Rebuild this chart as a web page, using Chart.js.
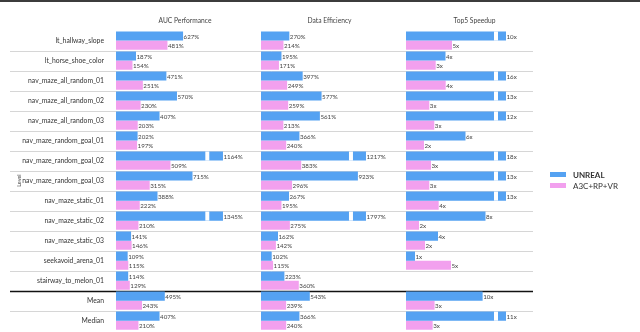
<!DOCTYPE html>
<html>
<head>
<meta charset="utf-8">
<script src="https://cdn.jsdelivr.net/npm/chart.js@4.4.1/dist/chart.umd.min.js"></script>
<style>
  html, body { margin: 0; padding: 0; background: #fff; }
  #wrap { position: relative; width: 640px; height: 332px; overflow: hidden; }
  #wrap canvas { position: absolute; left: 0; top: 0; }
  #topline { position: absolute; left: 0; top: 0; width: 640px; height: 2px; background: #3c3c3c; }
  .leg { position: absolute; left: 550px; width: 88px; height: 10px; font-family: Lato, 'Open Sans', sans-serif; font-size: 8px; color: #333; line-height: 10px; white-space: nowrap; }
  .leg i { display: inline-block; width: 16px; height: 5px; margin-right: 7px; vertical-align: 1px; }
</style>
</head>
<body>
<div id="wrap">
  <canvas id="auc" width="640" height="332"></canvas>
  <canvas id="eff" width="640" height="332"></canvas>
  <canvas id="top5" width="640" height="332"></canvas>
  <div id="topline"></div>
</div>
<script>
const levels = [
    'lt_hallway_slope', 'lt_horse_shoe_color', 'nav_maze_all_random_01', 'nav_maze_all_random_02',
    'nav_maze_all_random_03', 'nav_maze_random_goal_01', 'nav_maze_random_goal_02', 'nav_maze_random_goal_03',
    'nav_maze_static_01', 'nav_maze_static_02', 'nav_maze_static_03', 'seekavoid_arena_01',
    'stairway_to_melon_01', 'Mean', 'Median',
];
const seriesNames = ['UNREAL', 'A3C+RP+VR'];
const panelTitles = ['AUC Performance', 'Data Efficiency', 'Top5 Speedup'];

// percent of baseline; last two entries are Mean / Median
const aucUnreal = [627, 187, 471, 570, 407, 202, 1164, 715, 388, 1345, 141, 109, 114, 495, 407];
const aucA3c = [481, 154, 251, 230, 203, 197, 509, 315, 222, 210, 146, 115, 129, 243, 210];
const effUnreal = [270, 195, 397, 577, 561, 366, 1217, 923, 267, 1797, 162, 102, 223, 543, 366];
const effA3c = [214, 171, 249, 259, 213, 240, 383, 296, 195, 275, 142, 115, 360, 239, 240];
// speedup factor, no value for stairway_to_melon_01
const speedUnreal = [10, 3.95, 16, 13, 12, 5.95, 18, 13, 13, 7.95, 3.2, 0.9, null, 10, 11];
const speedA3c = [4.6, 2.97, 3.97, 2.33, 2.83, 1.8, 2.5, 2.33, 3.27, 1.3, 1.9, 4.5, null, 3, 3];

const blue = '#55a2f2';
const pink = '#f2a0ee';
const fontFamily = "Lato, 'Open Sans', sans-serif";
const nLevels = 13;

// bars are cut at the axis break; Mean/Median rows show the statistic of the cut bars
function shownValues(values, cap) {
    const clipped = values.slice(0, nLevels).filter((v) => v != null).map((v) => Math.min(v, cap));
    const sorted = [...clipped].sort((a, b) => a - b);
    const mid = sorted.length / 2;
    const median = sorted.length % 2 ? sorted[Math.floor(mid)] : (sorted[mid - 1] + sorted[mid]) / 2;
    const mean = clipped.reduce((a, b) => a + b, 0) / clipped.length;
    return values.map((v, i) => {
        if (i === nLevels) return mean;
        if (i === nLevels + 1) return median;
        return v == null ? null : Math.min(v, cap);
    });
}

const barDecor = {
    id: 'barDecor',
    afterDatasetsDraw(chart, args, opts) {
        const { ctx } = chart;
        const x = chart.scales.x;
        ctx.save();
        chart.data.datasets.forEach((ds, di) => {
            chart.getDatasetMeta(di).data.forEach((bar, i) => {
                const actual = ds.actual[i];
                if (actual == null) return;
                const half = bar.height / 2;
                if (ds.data[i] >= opts.cap) {
                    const g0 = x.getPixelForValue(opts.cap * opts.gap[0]);
                    const g1 = x.getPixelForValue(opts.cap * opts.gap[1]);
                    ctx.fillStyle = '#fff';
                    ctx.fillRect(g0, bar.y - half, g1 - g0, bar.height);
                }
                ctx.fillStyle = '#444';
                ctx.font = `6.2px ${fontFamily}`;
                ctx.textBaseline = 'middle';
                ctx.textAlign = 'left';
                ctx.fillText(opts.format(actual), bar.x + 0.5, bar.y + 1);
            });
        });
        ctx.restore();
    },
};

const rowLines = {
    id: 'rowLines',
    beforeDatasetsDraw(chart) {
        const { ctx } = chart;
        const y = chart.scales.y;
        ctx.save();
        for (let i = 0; i < levels.length - 1; i++) {
            const yy = Math.round((y.getPixelForValue(i) + y.getPixelForValue(i + 1)) / 2) + 0.5;
            const thick = i === nLevels - 1;
            ctx.strokeStyle = thick ? '#111' : '#d6d6d6';
            ctx.lineWidth = thick ? 1.6 : 1;
            ctx.beginPath();
            ctx.moveTo(10, yy);
            ctx.lineTo(533, yy);
            ctx.stroke();
        }
        ctx.restore();
    },
};

function makePanel(id, title, unreal, a3c, cfg) {
    return new Chart(document.getElementById(id), {
        type: 'bar',
        data: {
            labels: levels,
            datasets: [
                { label: seriesNames[0], data: shownValues(unreal, cfg.cap), actual: unreal, backgroundColor: blue },
                { label: seriesNames[1], data: shownValues(a3c, cfg.cap), actual: a3c, backgroundColor: pink },
            ],
        },
        options: {
            indexAxis: 'y',
            responsive: false,
            animation: false,
            devicePixelRatio: 1,
            datasets: { bar: { categoryPercentage: 0.91, barPercentage: 1 } },
            layout: { padding: { left: cfg.left, right: 640 - cfg.right, top: 0, bottom: 1.3 } },
            scales: {
                x: { display: false, min: 0, max: cfg.max },
                y: {
                    display: cfg.showLevels,
                    grid: { display: false },
                    border: { display: false },
                    ticks: { autoSkip: false, padding: 4, color: '#333', font: { family: fontFamily, size: 6.8 } },
                    title: {
                        display: true,
                        text: 'Level',
                        color: '#444',
                        font: { family: fontFamily, size: 5.5 },
                        padding: { top: 16, bottom: 0 },
                    },
                    afterFit(scale) {
                        scale.width = cfg.showLevels ? 116 : 0;
                        scale.paddingTop = 0;
                        scale.paddingBottom = 0;
                    },
                },
            },
            plugins: {
                legend: { display: false },
                tooltip: { enabled: false },
                title: {
                    display: true,
                    text: title,
                    fullSize: false,
                    color: '#444',
                    font: { family: fontFamily, size: 6.7, weight: 'normal' },
                    padding: { top: 16.5, bottom: 6 },
                },
                barDecor: { cap: cfg.cap, gap: cfg.gap, format: cfg.format },
            },
        },
        plugins: cfg.showLevels ? [rowLines, barDecor] : [barDecor],
    });
}

makePanel('auc', panelTitles[0], aucUnreal, aucA3c, {
    showLevels: true, left: 0, right: 254, cap: 1000, max: 1290, gap: [0.835, 0.872],
    format: (v) => `${v}%`,
});
makePanel('eff', panelTitles[1], effUnreal, effA3c, {
    showLevels: false, left: 261, right: 398, cap: 1000, max: 1305, gap: [0.838, 0.876],
    format: (v) => `${v}%`,
});
makePanel('top5', panelTitles[2], speedUnreal, speedA3c, {
    showLevels: false, left: 406, right: 543, cap: 10, max: 13.7, gap: [0.88, 0.92],
    format: (v) => `${Math.ceil(v)}x`,
});

// legend
const wrap = document.getElementById('wrap');
[blue, pink].forEach((color, i) => {
    const row = document.createElement('div');
    row.className = 'leg';
    row.style.top = `${170 + i * 11}px`;
    row.innerHTML = `<i style="background:${color}"></i><span style="font-weight:${i === 0 ? 'bold' : 'normal'}">${seriesNames[i]}</span>`;
    wrap.appendChild(row);
});
</script>
</body>
</html>
